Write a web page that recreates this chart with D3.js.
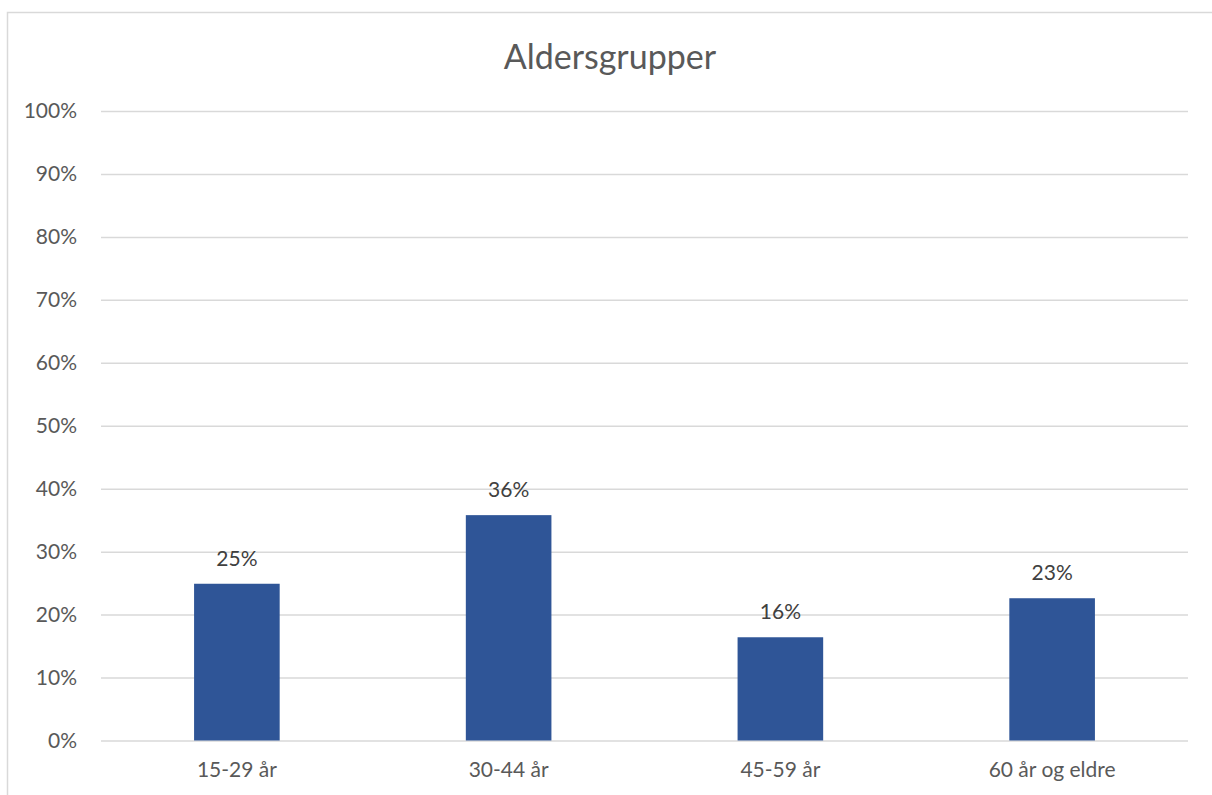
<!DOCTYPE html>
<html><head><meta charset="utf-8">
<script src="https://cdn.jsdelivr.net/npm/d3@7"></script>
<style>body{margin:0;background:#fff;} svg{display:block;font-family:Lato,"Open Sans",sans-serif;}</style>
</head><body><svg id="c" width="1212" height="795"></svg>
<script>
const categories = ["15-29 år","30-44 år","45-59 år","60 år og eldre"];
const values = [0.249, 0.358, 0.164, 0.226];
const labels = ["25%","36%","16%","23%"];
const yTicks = [0,0.1,0.2,0.3,0.4,0.5,0.6,0.7,0.8,0.9,1.0];
const title = "Aldersgrupper";

const svg = d3.select("#c");
svg.append("rect").attr("x",7.5).attr("y",12.5).attr("width",1230).attr("height",800)
  .attr("fill","#fff").attr("stroke","#D9D9D9").attr("stroke-width",1.5);

const m = {left:101, right:1188, top:111, bottom:740.5};
const x = d3.scaleBand().domain(categories).range([m.left,m.right]).paddingInner(0.685).paddingOuter(0.3425);
const y = d3.scaleLinear().domain([0,1]).range([m.bottom,m.top]);

const yAxis = svg.append("g").attr("transform",`translate(${m.left},0)`)
  .call(d3.axisLeft(y).tickValues(yTicks).tickFormat(d3.format(".0%")).tickSize(-(m.right-m.left)).tickPadding(24));
yAxis.select(".domain").remove();
yAxis.selectAll(".tick line").attr("stroke","#D9D9D9").attr("stroke-width",1.5);
yAxis.selectAll(".tick text").attr("fill","#595959").style("font-size","21px").attr("font-family","Lato");

svg.append("g").selectAll("rect").data(categories).join("rect")
  .attr("x",d=>x(d)).attr("width",x.bandwidth())
  .attr("y",(d,i)=>y(values[i])).attr("height",(d,i)=>y(0)-y(values[i]))
  .attr("fill","#2F5597");

svg.append("g").selectAll("text").data(categories).join("text")
  .attr("x",d=>x(d)+x.bandwidth()/2).attr("y",(d,i)=>y(values[i])-18)
  .attr("text-anchor","middle").attr("fill","#404040").style("font-size","21px")
  .text((d,i)=>labels[i]);

const xAxis = svg.append("g").attr("transform",`translate(0,${m.bottom})`)
  .call(d3.axisBottom(x).tickSize(0).tickPadding(22));
xAxis.select(".domain").remove();
xAxis.selectAll(".tick text").attr("fill","#595959").style("font-size","21px").attr("font-family","Lato");

svg.append("text").attr("x",610).attr("y",69).attr("text-anchor","middle")
  .attr("fill","#595959").style("font-size","34px").text(title);
</script></body></html>
